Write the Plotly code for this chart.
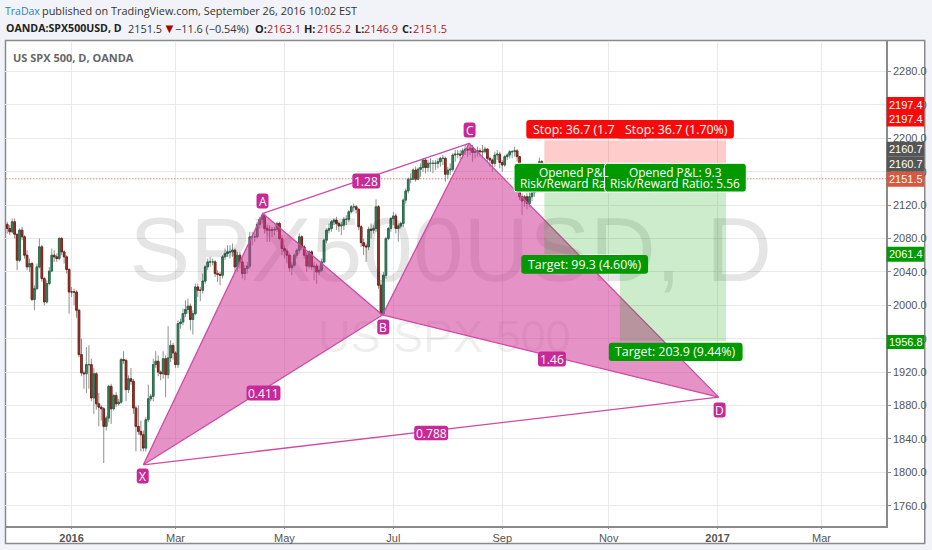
import plotly.graph_objects as go

# ---------- data ----------
closes = [
    2092,2088,2100,2085,2054,2090,2082,2060,2046,2050,
    2007,2020,2046,2070,2032,2004,2026,2041,2060,2058,
    2056,2080,2064,2058,2043,2016,2016,2016,1994,1941,
    1919,1918,1929,1929,1889,1918,1882,1878,1876,1855,
    1865,1903,1876,1892,1882,1884,1935,1934,1899,1912,
    1909,1877,1855,1849,1845,1829,1863,1888,1891,1929,
    1933,1920,1918,1936,1917,1937,1952,1943,1929,1978,
    1980,1990,1995,1999,1983,1990,2022,2018,2018,2029,
    2046,2052,2052,2052,2038,2037,2036,2058,2062,2064,
    2064,2066,2046,2060,2052,2038,2044,2047,2082,2082,
    2082,2097,2103,2108,2092,2090,2090,2090,2091,2098,
    2080,2068,2065,2060,2045,2048,2060,2066,2082,2070,
    2060,2047,2064,2046,2047,2040,2042,2052,2078,2090,
    2092,2100,2102,2098,2095,2096,2103,2103,2112,2118,
    2118,2115,2094,2075,2071,2070,2091,2090,2092,2118,
    2024,1990,2036,2080,2092,2104,2107,2092,2095,2098,
    2126,2137,2151,2151,2162,2151,2163,2165,2174,2165,
    2170,2170,2170,2170,2172,2176,2176,2157,2162,2163,
    2180,2181,2181,2180,2185,2187,2186,2188,2183,2184,
    2185,2184,2184,2187,2176,2174,2170,2180,2181,2171,
    2168,2178,2180,2184,2184,2185,2178,2130,2125,2130,
    2122,2130,2135,2145,2150,2172,2163.1,2151.5,
]
highs = [
    2100,2096,2104,2104,2086,2092,2094,2084,2066,2056,
    2052,2024,2050,2080,2072,2034,2030,2046,2068,2066,
    2062,2082,2082,2066,2060,2044,2022,2020,2018,1996,
    1960,1922,1950,1952,1936,1925,1920,1895,1880,1878,
    1868,1905,1906,1894,1896,1888,1937,1945,1936,1916,
    1925,1912,1880,1880,1862,1850,1866,1905,1894,1936,
    1945,1940,1922,1945,1940,1975,1958,1955,1945,1982,
    1984,1996,2006,2008,2002,1994,2026,2026,2022,2038,
    2048,2056,2058,2056,2054,2042,2040,2060,2068,2072,
    2072,2074,2068,2064,2064,2056,2048,2052,2088,2088,
    2086,2100,2106,2110,2110,2096,2096,2094,2094,2100,
    2100,2084,2072,2068,2062,2052,2062,2068,2086,2084,
    2072,2064,2066,2066,2052,2050,2048,2056,2080,2092,
    2098,2102,2104,2106,2100,2100,2106,2108,2114,2120,
    2122,2120,2116,2096,2080,2074,2094,2098,2096,2127,
    2120,2030,2040,2082,2094,2106,2112,2110,2098,2100,
    2128,2140,2153,2158,2164,2166,2165,2170,2176,2176,
    2174,2176,2174,2174,2176,2178,2180,2178,2166,2170,
    2182,2186,2186,2186,2188,2192,2192,2194,2192,2188,
    2190,2188,2192,2190,2188,2178,2176,2184,2186,2184,
    2174,2180,2182,2186,2186,2190,2187,2178,2134,2132,
    2134,2136,2138,2150,2160,2177,2174,2165.2,
]
lows = [
    2086,2084,2086,2080,2042,2052,2078,2056,2042,2040,
    2005,1994,2018,2044,2028,2000,2002,2024,2040,2052,
    2052,2054,2060,2050,2038,1990,2010,2000,1985,1938,
    1915,1900,1895,1900,1885,1870,1875,1855,1862,1811,
    1850,1860,1858,1874,1878,1880,1882,1930,1885,1895,
    1905,1870,1825,1845,1825,1825,1825,1860,1885,1885,
    1925,1915,1910,1912,1890,1912,1932,1935,1925,1925,
    1972,1976,1986,1990,1970,1965,1988,2010,2005,2014,
    2026,2042,2046,2048,2034,2028,2024,2032,2054,2058,
    2056,2058,2040,2040,2044,2032,2030,2038,2044,2072,
    2076,2080,2092,2098,2086,2076,2076,2082,2084,2088,
    2078,2060,2056,2050,2040,2036,2046,2056,2062,2066,
    2056,2040,2044,2042,2030,2026,2036,2040,2050,2074,
    2086,2088,2096,2090,2088,2084,2090,2096,2100,2110,
    2112,2110,2090,2070,2060,2052,2066,2080,2086,2088,
    2020,1988,1988,2032,2078,2088,2096,2086,2076,2092,
    2094,2122,2134,2146,2150,2148,2150,2154,2160,2158,
    2160,2160,2158,2162,2164,2166,2168,2148,2152,2156,
    2160,2172,2176,2174,2176,2180,2178,2180,2172,2176,
    2178,2178,2176,2182,2172,2166,2160,2166,2174,2164,
    2160,2166,2174,2176,2176,2178,2172,2126,2108,2118,
    2115,2118,2125,2130,2135,2146,2160,2146.9,
]
first_open = 2097
bars = list(range(-26, 192))

# harmonic pattern points (bar number, price)
pattern_names = ["X", "A", "B", "C", "D"]
pattern_bars = [29, 77.3, 125.6, 160.6, 261.4]
pattern_prices = [1809, 2110, 1988.4, 2194, 1890]

# positions
entry_price = 2160.7
stop_price = 2197.4
target_one = 2061.4
target_two = 1956.8
position_bars = [191, 221.5, 264.4]
last_price = 2151.5

y_ticks = list(range(1760, 2281, 40))
x_tick_bars = [0, 42, 86, 130, 174, 217, 261, 303]
x_tick_text = ["<b>2016</b>", "Mar", "May", "Jul", "Sep", "Nov", "<b>2017</b>", "Mar"]

# ---------- pixel layout helpers ----------
W, H = 932, 550
L, R, T, B = 5.0, 887.7, 41.0, 526.0
px = lambda x: (x - L) / (R - L)
py = lambda y: (B - y) / (B - T)


def rounded(x0, y0, x1, y1, fill, line=None, r=3):
    p = (f"M {px(x0+r)} {py(y0)} L {px(x1-r)} {py(y0)} Q {px(x1)} {py(y0)} {px(x1)} {py(y0+r)} "
         f"L {px(x1)} {py(y1-r)} Q {px(x1)} {py(y1)} {px(x1-r)} {py(y1)} "
         f"L {px(x0+r)} {py(y1)} Q {px(x0)} {py(y1)} {px(x0)} {py(y1-r)} "
         f"L {px(x0)} {py(y0+r)} Q {px(x0)} {py(y0)} {px(x0+r)} {py(y0)} Z")
    return dict(type="path", xref="paper", yref="paper", path=p, fillcolor=fill, layer="above",
                line=dict(color=line or fill, width=1 if line else 0))


def label(x, y, text, color="#fff", size=12.4, anchor="center", family="Open Sans"):
    return dict(xref="paper", yref="paper", x=px(x), y=py(y), text=text, showarrow=False,
                xanchor=anchor, yanchor="middle", font=dict(color=color, size=size, family=family),
                borderpad=0, borderwidth=0)


opens = [first_open] + closes[:-1]
fig = go.Figure()

# wicks, then bodies on top
fig.add_trace(go.Candlestick(
    x=bars, open=opens, high=highs, low=lows, close=closes, whiskerwidth=0,
    increasing=dict(line=dict(color="#8a958f", width=1), fillcolor="#8a958f"),
    decreasing=dict(line=dict(color="#958a8a", width=1), fillcolor="#958a8a"),
    hoverinfo="skip", showlegend=False))
fig.add_trace(go.Candlestick(
    x=bars, open=opens, close=closes,
    high=[max(o, c) for o, c in zip(opens, closes)],
    low=[min(o, c) for o, c in zip(opens, closes)], whiskerwidth=0,
    increasing=dict(line=dict(color="#2b6b4e", width=1), fillcolor="#3f8a68"),
    decreasing=dict(line=dict(color="#762319", width=1), fillcolor="#a83c30"),
    showlegend=False))

# watermarks
fig.add_trace(go.Scatter(x=[153.2], y=[2056], mode="text", text=["SPX500USD, D"],
                         textfont=dict(size=91, family="Liberation Sans", color="rgba(0,0,0,0.10)"),
                         hoverinfo="skip", showlegend=False))
fig.add_trace(go.Scatter(x=[150.6], y=[1957], mode="text", text=["US SPX 500"],
                         textfont=dict(size=45, family="Liberation Sans", color="rgba(0,0,0,0.08)"),
                         hoverinfo="skip", showlegend=False))

# harmonic pattern
PINK = "#cf4aa6"
PINK_FILL = "rgba(208,56,152,0.55)"
for a, b, c in [(0, 1, 2), (2, 3, 4)]:
    fig.add_trace(go.Scatter(
        x=[pattern_bars[a], pattern_bars[b], pattern_bars[c], pattern_bars[a]],
        y=[pattern_prices[a], pattern_prices[b], pattern_prices[c], pattern_prices[a]],
        mode="lines", fill="toself", fillcolor=PINK_FILL, line=dict(color=PINK, width=1.3),
        hoverinfo="skip", showlegend=False))
for a, b in [(0, 4), (1, 3)]:
    fig.add_trace(go.Scatter(x=[pattern_bars[a], pattern_bars[b]], y=[pattern_prices[a], pattern_prices[b]],
                             mode="lines", line=dict(color=PINK, width=1.3), hoverinfo="skip", showlegend=False))

# position zones
x0, xm, x1 = position_bars
zones = [
    ([x0, x1, x1, x0, x0], [stop_price, stop_price, entry_price, entry_price, stop_price], "rgba(255,0,0,0.20)"),
    ([x0, xm, xm, x0, x0], [entry_price, entry_price, target_one, target_one, entry_price], "rgba(0,160,0,0.20)"),
    ([xm, x1, x1, xm, xm], [entry_price, entry_price, target_two, target_two, entry_price], "rgba(0,160,0,0.20)"),
]
for zx, zy, col in zones:
    fig.add_trace(go.Scatter(x=zx, y=zy, mode="lines", fill="toself", fillcolor=col,
                             line=dict(width=0), hoverinfo="skip", showlegend=False))

# last price line
fig.add_trace(go.Scatter(x=[-30, 340], y=[last_price, last_price], mode="lines",
                         line=dict(color="#d8432f", width=1, dash="1px,2px"), hoverinfo="skip", showlegend=False))

shapes = []
annotations = []

# outer frame (white panel on the tinted page)
shapes.append(dict(type="rect", xref="paper", yref="paper", x0=px(5.5), x1=px(926.5), y0=py(543.5), y1=py(40.5),
                   line=dict(color="#8a8a8a", width=1.5), fillcolor="#ffffff", layer="below"))

# pattern tags
MAG = "#c72a98"
tags = [("X", 143, 476, 12, 15), ("A", 263, 201, 12, 15), ("B", 384, 327, 12, 15), ("C", 470.5, 130, 12, 15),
        ("D", 721, 410, 12, 15), ("0.411", 264, 393, 34, 15), ("1.28", 367, 181, 28, 15),
        ("1.46", 553, 359, 28, 15), ("0.788", 432, 433, 34, 14.5)]
for t, cx, cy, w, h in tags:
    shapes.append(rounded(cx - w / 2, cy - h / 2, cx + w / 2, cy + h / 2, MAG))
    annotations.append(label(cx, cy, t, size=12))

# stop / target / P&L boxes
RED, GREEN = "#f70a0a", "#009a00"
shapes += [
    rounded(527.3, 120, 650, 138.5, RED),
    rounded(618, 120, 735.3, 138.5, RED),
    rounded(515, 163.3, 655, 192, GREEN, "#ffffff"),
    rounded(605.7, 163.3, 747.7, 192, GREEN, "#ffffff"),
    rounded(522.3, 255, 649.3, 273.7, GREEN),
    rounded(610, 342.7, 744, 361, GREEN),
]
annotations += [
    label(534, 129.3, "Stop: 36.7 (1.7", anchor="left"),
    label(677.5, 129.3, "Stop: 36.7 (1.70%)"),
    label(540, 172, "Opened P&amp;L", size=11.9, anchor="left"),
    label(520.7, 183.5, "Risk/Reward Ra", size=11.9, anchor="left"),
    label(676.7, 172, "Opened P&amp;L: 9.3", size=11.9),
    label(676.7, 183.5, "Risk/Reward Ratio: 5.56", size=11.9),
    label(586, 264.3, "Target: 99.3 (4.60%)"),
    label(677, 351.8, "Target: 203.9 (9.44%)"),
]

# right-side price tags
PRICE_X0, PRICE_X1 = 888.4, 926
AX_FONT = "Liberation Sans"
price_tags = [
    (97, 112, "2197.4", "#f70a0a"), (112, 126.5, "2197.4", "#f70a0a"),
    (141.7, 156.7, "2160.7", "#555555"), (156.7, 171.7, "2160.7", "#555555"),
    (171.7, 186.7, "2151.5", "#d9563f"), (246.7, 261.7, "2061.4", "#009a00"),
    (335, 349, "1956.8", "#009a00"),
]
for y0, y1, t, col in price_tags:
    shapes.append(dict(type="rect", xref="paper", yref="paper", x0=px(PRICE_X0), x1=px(PRICE_X1),
                       y0=py(y1), y1=py(y0), fillcolor=col, line=dict(width=0), layer="above"))
    annotations.append(label(907.5, (y0 + y1) / 2, t, size=11, family=AX_FONT))

# header
HS = 10.9
DARK = "#333333"
VAL = "#a5222a"
annotations += [
    label(5, 10.5, "TraDax", color="#2a83b5", size=10.5, anchor="left"),
    label(42.5, 10.5, "published on TradingView.com, September 26, 2016 10:02 EST", color=DARK, size=HS, anchor="left"),
    label(6.5, 28, "<b>OANDA:SPX500USD, D</b>", color="#222222", size=10.6, anchor="left"),
    label(128.5, 28, "2151.5", color=DARK, size=HS, anchor="left"),
    label(163.5, 28, "▼", color="#b00000", size=13, anchor="left"),
    label(175, 28, "−11.6 (−0.54%)", color=DARK, size=HS, anchor="left"),
    label(255, 28, "<b>O:</b>", color="#222222", size=HS, anchor="left"),
    label(268, 28, "2163.1", color=VAL, size=HS, anchor="left"),
    label(305, 28, "<b>H:</b>", color="#222222", size=HS, anchor="left"),
    label(318, 28, "2165.2", color=VAL, size=HS, anchor="left"),
    label(356, 28, "<b>L:</b>", color="#222222", size=HS, anchor="left"),
    label(365, 28, "2146.9", color=VAL, size=HS, anchor="left"),
    label(403, 28, "<b>C:</b>", color="#222222", size=HS, anchor="left"),
    label(414, 28, "2151.5", color=VAL, size=HS, anchor="left"),
    label(13, 57, "<b>US SPX 500, D, OANDA</b>", color="#666666", size=11, anchor="left"),
]

fig.update_layout(
    width=W, height=H, autosize=False,
    margin=dict(l=L, r=W - R, t=T, b=H - B, pad=0),
    paper_bgcolor="#f1f3f8", plot_bgcolor="#ffffff",
    boxgap=0.1,
    showlegend=False, shapes=shapes, annotations=annotations,
    xaxis=dict(range=[(L - 71.7) / 2.48, (R - 71.7) / 2.48], rangeslider=dict(visible=False),
               tickmode="array", tickvals=x_tick_bars, ticktext=x_tick_text,
               tickfont=dict(size=11, family=AX_FONT, color="#555555"),
               showgrid=True, gridcolor="#e9e9e9", gridwidth=1, zeroline=False,
               showline=True, linecolor="#8a8a8a", linewidth=1.5, ticks="outside", ticklen=1,
               tickcolor="#8a8a8a", mirror=False),
    yaxis=dict(side="right", range=[2200 - (B - 138.3) / 0.835, 2200 + (138.3 - T) / 0.835],
               tickmode="array", tickvals=y_ticks, tickformat=".1f",
               tickfont=dict(size=11, family=AX_FONT, color="#555555"),
               showgrid=True, gridcolor="#e9e9e9", gridwidth=1, zeroline=False,
               showline=True, linecolor="#8a8a8a", linewidth=1.5, ticks="outside", ticklen=3,
               tickcolor="#8a8a8a"),
)

fig.write_html("out.html", config=dict(displayModeBar=False),
               post_script="document.body.style.margin='0';document.body.style.overflow='hidden';")
